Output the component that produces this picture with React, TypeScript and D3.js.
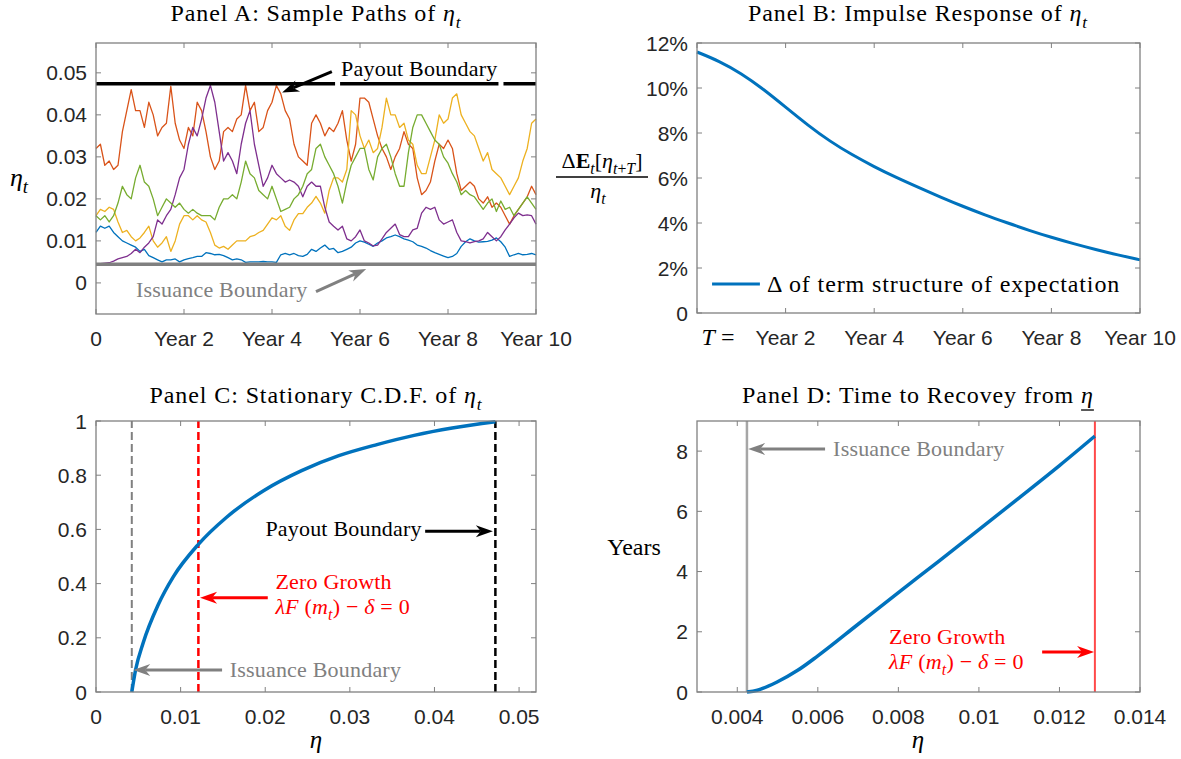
import { useRef, useEffect } from 'react';
import * as d3 from 'd3';

// Panel A: sample paths of eta, one reading every pathStep years (0 .. 10)
const pathStep = 0.1;
const pathBlue = [
  0.012, 0.0135, 0.013, 0.0135, 0.012, 0.011, 0.010, 0.0095, 0.009, 0.0085,
  0.0075, 0.008, 0.0065, 0.006, 0.0055, 0.005, 0.0055, 0.0055, 0.0057, 0.005,
  0.0055, 0.0058, 0.006, 0.0063, 0.0063, 0.0072, 0.007, 0.0067, 0.0068, 0.0065,
  0.006, 0.0055, 0.0057, 0.0055, 0.0049, 0.005, 0.005, 0.005, 0.0051, 0.005,
  0.005, 0.0049, 0.0067, 0.007, 0.0067, 0.007, 0.0065, 0.0063, 0.0068, 0.008,
  0.0075, 0.0083, 0.009, 0.008, 0.0082, 0.0072, 0.0075, 0.008, 0.0085, 0.0095,
  0.010, 0.0097, 0.0092, 0.0087, 0.0095, 0.010, 0.0107, 0.011, 0.0114, 0.011,
  0.0105, 0.0102, 0.0098, 0.009, 0.0087, 0.0083, 0.0077, 0.0072, 0.0068, 0.0064,
  0.006, 0.0063, 0.007, 0.0087, 0.0098, 0.0105, 0.010, 0.0097, 0.0098, 0.0099,
  0.0102, 0.0107, 0.0098, 0.0085, 0.0063, 0.0067, 0.007, 0.0067, 0.0068, 0.007,
  0.0067,
];
const pathOrange = [
  0.032, 0.033, 0.028, 0.029, 0.027, 0.028, 0.036, 0.041, 0.046, 0.041,
  0.041, 0.037, 0.043, 0.040, 0.035, 0.037, 0.038, 0.0468, 0.038, 0.034,
  0.032, 0.037, 0.035, 0.043, 0.041, 0.036, 0.030, 0.027, 0.029, 0.036,
  0.037, 0.036, 0.039, 0.040, 0.047, 0.041, 0.043, 0.036, 0.037, 0.041,
  0.043, 0.047, 0.045, 0.041, 0.039, 0.033, 0.030, 0.029, 0.028, 0.038,
  0.040, 0.038, 0.035, 0.037, 0.036, 0.038, 0.041, 0.034, 0.029, 0.033,
  0.044, 0.044, 0.043, 0.039, 0.035, 0.032, 0.030, 0.027, 0.030, 0.032,
  0.036, 0.033, 0.032, 0.025, 0.021, 0.022, 0.024, 0.029, 0.033, 0.032,
  0.034, 0.032, 0.026, 0.022, 0.023, 0.024, 0.023, 0.020, 0.019, 0.0205,
  0.018, 0.019, 0.018, 0.016, 0.014, 0.016, 0.0175, 0.019, 0.0205, 0.023,
  0.021,
];
const pathYellow = [
  0.016, 0.0175, 0.017, 0.018, 0.0175, 0.0145, 0.012, 0.0125, 0.011, 0.010,
  0.0107, 0.012, 0.0135, 0.010, 0.0085, 0.0095, 0.011, 0.0075, 0.010, 0.014,
  0.016, 0.016, 0.015, 0.016, 0.015, 0.0145, 0.012, 0.009, 0.0083, 0.0087,
  0.008, 0.009, 0.010, 0.010, 0.010, 0.011, 0.0113, 0.012, 0.0125, 0.014,
  0.0155, 0.015, 0.016, 0.0135, 0.0125, 0.015, 0.0165, 0.0165, 0.018, 0.019,
  0.0206, 0.019, 0.0166, 0.022, 0.025, 0.025, 0.024, 0.027, 0.041, 0.040,
  0.035, 0.032, 0.034, 0.031, 0.032, 0.037, 0.044, 0.040, 0.040, 0.037,
  0.038, 0.034, 0.033, 0.028, 0.026, 0.026, 0.030, 0.034, 0.040, 0.038,
  0.039, 0.044, 0.045, 0.040, 0.038, 0.036, 0.035, 0.032, 0.029, 0.031,
  0.027, 0.026, 0.025, 0.023, 0.021, 0.023, 0.025, 0.029, 0.032, 0.038,
  0.039,
];
const pathPurple = [
  0.0046, 0.0046, 0.0047, 0.0048, 0.0052, 0.0057, 0.006, 0.0063, 0.007, 0.008,
  0.0072, 0.0085, 0.0095, 0.011, 0.015, 0.014, 0.016, 0.0175, 0.021, 0.025,
  0.027, 0.033, 0.037, 0.035, 0.039, 0.044, 0.047, 0.043, 0.036, 0.029,
  0.031, 0.029, 0.026, 0.033, 0.038, 0.041, 0.033, 0.028, 0.023, 0.025,
  0.028, 0.026, 0.025, 0.024, 0.0245, 0.024, 0.023, 0.0205, 0.023, 0.024,
  0.023, 0.023, 0.018, 0.0145, 0.0135, 0.0126, 0.0135, 0.0105, 0.010, 0.011,
  0.0126, 0.010, 0.0095, 0.0088, 0.009, 0.0105, 0.012, 0.013, 0.014, 0.0115,
  0.011, 0.011, 0.0126, 0.013, 0.0166, 0.018, 0.0175, 0.018, 0.015, 0.014,
  0.0145, 0.015, 0.012, 0.010, 0.0098, 0.0095, 0.0098, 0.010, 0.0105, 0.012,
  0.011, 0.010, 0.011, 0.0126, 0.014, 0.0155, 0.0166, 0.016, 0.0162, 0.016,
  0.014,
];
const pathGreen = [
  0.016, 0.015, 0.016, 0.0145, 0.016, 0.019, 0.023, 0.021, 0.020, 0.025,
  0.028, 0.024, 0.023, 0.020, 0.016, 0.018, 0.020, 0.019, 0.018, 0.019,
  0.0175, 0.0166, 0.0175, 0.0166, 0.016, 0.016, 0.016, 0.015, 0.018, 0.020,
  0.020, 0.021, 0.020, 0.024, 0.029, 0.026, 0.025, 0.022, 0.021, 0.020,
  0.023, 0.020, 0.017, 0.0175, 0.018, 0.020, 0.021, 0.023, 0.026, 0.027,
  0.032, 0.033, 0.030, 0.028, 0.026, 0.023, 0.019, 0.024, 0.028, 0.030,
  0.032, 0.032, 0.027, 0.0245, 0.030, 0.032, 0.033, 0.030, 0.026, 0.023,
  0.023, 0.031, 0.037, 0.040, 0.040, 0.038, 0.036, 0.034, 0.033, 0.030,
  0.0285, 0.026, 0.024, 0.021, 0.022, 0.021, 0.0205, 0.019, 0.0175, 0.019,
  0.020, 0.017, 0.0195, 0.0175, 0.018, 0.016, 0.0175, 0.019, 0.0205, 0.019,
  0.0175,
];
const samplePaths = [pathBlue, pathOrange, pathYellow, pathPurple, pathGreen];
const pathColors = ['#0072BD', '#D95319', '#EDB120', '#7E2F8E', '#77AC30'];

const payoutBoundary = 0.0474;
const issuanceBoundary = 0.00445;
const yearTicks = [0, 2, 4, 6, 8, 10];
const yearLabelsA = ['0', 'Year 2', 'Year 4', 'Year 6', 'Year 8', 'Year 10'];
const yearLabelsB = ['', 'Year 2', 'Year 4', 'Year 6', 'Year 8', 'Year 10'];
const etaTicksA = [0, 0.01, 0.02, 0.03, 0.04, 0.05];

// Panel B: impulse response, percent
const irfT = [0, 0.5, 1, 1.5, 2, 2.5, 3, 3.5, 4, 4.5, 5, 5.5, 6, 6.5, 7, 7.5, 8, 8.5, 9, 9.5, 10];
const irfPct = [11.6, 11.2, 10.65, 9.95, 9.15, 8.35, 7.63, 7.03, 6.5, 6.02, 5.58, 5.15, 4.74, 4.36, 4.01, 3.67, 3.36, 3.08, 2.82, 2.58, 2.36];
const pctTicks = [0, 2, 4, 6, 8, 10, 12];

// Panel C: stationary CDF
const cdfEta = [0.00423, 0.00468, 0.00557, 0.00735, 0.00913, 0.0121, 0.0154, 0.0198, 0.0243, 0.0287, 0.0332, 0.0376, 0.0421, 0.0472];
const cdfProb = [0, 0.082, 0.181, 0.322, 0.425, 0.545, 0.644, 0.743, 0.817, 0.872, 0.913, 0.947, 0.974, 0.997];
const cdfIssuance = 0.00423;
const cdfZeroGrowth = 0.0121;
const cdfPayout = 0.0472;
const cdfXTicks = [0, 0.01, 0.02, 0.03, 0.04, 0.05];
const cdfYTicks = [0, 0.2, 0.4, 0.6, 0.8, 1];

// Panel D: time to recovery
const recEta = [0.00424, 0.0045, 0.005, 0.0055, 0.006, 0.007, 0.008, 0.009, 0.01, 0.011, 0.012, 0.01288];
const recYears = [0, 0.06, 0.34, 0.72, 1.2, 2.25, 3.3, 4.34, 5.39, 6.45, 7.52, 8.5];
const recIssuance = 0.00424;
const recZeroGrowth = 0.01288;
const recXTicks = [0.004, 0.006, 0.008, 0.01, 0.012, 0.014];
const recYTicks = [0, 2, 4, 6, 8];

const SANS = '"Liberation Sans", Arial, sans-serif';
const SERIF = '"Liberation Serif", "Times New Roman", serif';
const AXIS = '#808080';
const LABEL = '#262626';
const BLUE = '#0072BD';
const GRAY = '#808080';
const RED = '#ff0000';

// parts: [text, flags] with flags i = italic, b = bold, s = subscript
function mathText(g, x, y, parts, size, opts: any = {}) {
  const t = g.append('text')
    .attr('x', x).attr('y', y)
    .attr('text-anchor', opts.anchor || 'middle')
    .attr('font-family', SERIF)
    .attr('font-size', size)
    .attr('fill', opts.color || '#000')
    .attr('letter-spacing', opts.spacing || 0);
  let shift = 0;
  parts.forEach(([s, f = '']) => {
    const target = f.includes('s') ? size * 0.28 : 0;
    t.append('tspan')
      .attr('dy', target - shift)
      .attr('font-size', f.includes('s') ? size * 0.72 : size)
      .attr('font-style', f.includes('i') ? 'italic' : 'normal')
      .attr('font-weight', f.includes('b') ? 'bold' : 'normal')
      .text(s);
    shift = target;
  });
  return t;
}

function arrow(g, x1, y1, x2, y2, color, lw = 3) {
  const a = Math.atan2(y2 - y1, x2 - x1);
  const ux = Math.cos(a), uy = Math.sin(a);
  const nx = -uy, ny = ux;
  const L = 17, hw = 6, notch = 12;
  const bx = x2 - ux * L, by = y2 - uy * L;
  const mx = x2 - ux * notch, my = y2 - uy * notch;
  g.append('line').attr('x1', x1).attr('y1', y1).attr('x2', mx).attr('y2', my)
    .attr('stroke', color).attr('stroke-width', lw);
  g.append('path')
    .attr('d', `M${x2},${y2}L${bx + nx * hw},${by + ny * hw}L${mx},${my}L${bx - nx * hw},${by - ny * hw}Z`)
    .attr('fill', color);
}

function frame(g, x, y, xTicks, xLabel, yTicks, yLabel) {
  const [x0, x1] = x.range();
  const [yb, yt] = y.range();
  const tk = 5;
  xTicks.forEach((v, i) => {
    const p = x(v);
    g.append('line').attr('x1', p).attr('x2', p).attr('y1', yb).attr('y2', yb - tk).attr('stroke', AXIS);
    g.append('line').attr('x1', p).attr('x2', p).attr('y1', yt).attr('y2', yt + tk).attr('stroke', AXIS);
    const s = xLabel(v, i);
    if (s) {
      g.append('text').attr('x', p).attr('y', yb + 32)
        .attr('text-anchor', 'middle').attr('font-family', SANS).attr('font-size', 21)
        .attr('fill', LABEL).text(s);
    }
  });
  yTicks.forEach((v, i) => {
    const p = y(v);
    g.append('line').attr('x1', x0).attr('x2', x0 + tk).attr('y1', p).attr('y2', p).attr('stroke', AXIS);
    g.append('line').attr('x1', x1).attr('x2', x1 - tk).attr('y1', p).attr('y2', p).attr('stroke', AXIS);
    g.append('text').attr('x', x0 - 9).attr('y', p).attr('dy', '0.36em')
      .attr('text-anchor', 'end').attr('font-family', SANS).attr('font-size', 21)
      .attr('fill', LABEL).text(yLabel(v, i));
  });
  g.append('rect').attr('x', x0).attr('y', yt).attr('width', x1 - x0).attr('height', yb - yt)
    .attr('fill', 'none').attr('stroke', AXIS).attr('stroke-width', 1.3);
}

const App = () => {
  const ref = useRef<SVGSVGElement>(null);

  useEffect(() => {
    const svg = d3.select(ref.current);
    svg.selectAll('*').remove();
    svg.append('rect').attr('width', 1181).attr('height', 759).attr('fill', '#fff');

    // ---------- Panel A ----------
    const gA = svg.append('g');
    const xA = d3.scaleLinear().domain([0, 10]).range([96, 536]);
    const yA = d3.scaleLinear().domain([-0.0074, 0.0571]).range([314, 43]);
    const pathLine = d3.line<number>().x((_, i) => xA(i * pathStep)).y(d => yA(d));
    samplePaths.forEach((p, k) => {
      gA.append('path').attr('d', pathLine(p)).attr('fill', 'none')
        .attr('stroke', pathColors[k]).attr('stroke-width', 1.3).attr('stroke-linejoin', 'round');
    });
    gA.append('line').attr('x1', xA(0)).attr('x2', xA(10)).attr('y1', yA(payoutBoundary)).attr('y2', yA(payoutBoundary))
      .attr('stroke', '#000').attr('stroke-width', 3.5);
    gA.append('line').attr('x1', xA(0)).attr('x2', xA(10)).attr('y1', yA(issuanceBoundary)).attr('y2', yA(issuanceBoundary))
      .attr('stroke', GRAY).attr('stroke-width', 3.5);
    frame(gA, xA, yA, yearTicks, (_, i) => yearLabelsA[i], etaTicksA, v => String(v));
    mathText(gA, 316, 21, [['Panel A: Sample Paths of '], ['η', 'i'], ['t', 'is']], 24, { spacing: 0.9 });
    mathText(gA, 19, 186, [['η', 'i'], ['t', 'is']], 26);

    const payText = mathText(gA, xA(5.57), yA(0.0508) + 7, [['Payout Boundary']], 22, { anchor: 'start', spacing: 0.2 });
    const pb = (payText.node() as SVGTextElement).getBBox();
    [pb.x - 6, pb.x + pb.width + 1].forEach(gx => {
      gA.append('rect').attr('x', gx).attr('y', yA(payoutBoundary) - 3).attr('width', 5).attr('height', 6).attr('fill', '#fff');
    });
    arrow(gA, xA(5.36), yA(0.0503), xA(4.23), yA(0.0453), '#000', 3);
    mathText(gA, xA(0.91), yA(-0.0017) + 7, [['Issuance Boundary']], 22, { anchor: 'start', color: GRAY, spacing: 0.2 });
    arrow(gA, xA(5.0), yA(-0.0021), xA(6.14), yA(0.0033), GRAY, 3);

    // ---------- Panel B ----------
    const gB = svg.append('g');
    const xB = d3.scaleLinear().domain([0, 10]).range([697, 1140]);
    const yB = d3.scaleLinear().domain([0, 12]).range([313, 43]);
    const irfLine = d3.line<number>().x((_, i) => xB(irfT[i])).y(d => yB(d)).curve(d3.curveBasis);
    gB.append('path').attr('d', irfLine(irfPct)).attr('fill', 'none').attr('stroke', BLUE).attr('stroke-width', 3);
    frame(gB, xB, yB, yearTicks, (_, i) => yearLabelsB[i], pctTicks, v => (v === 0 ? '0' : `${v}%`));
    mathText(gB, 918, 21, [['Panel B: Impulse Response of '], ['η', 'i'], ['t', 'is']], 24, { spacing: 0.9 });
    mathText(gB, xB(0) + 21, 345, [['T', 'i'], [' =']], 24);
    // legend
    const legY = yB(1.29);
    gB.append('line').attr('x1', xB(0.34)).attr('x2', xB(1.42)).attr('y1', legY).attr('y2', legY)
      .attr('stroke', BLUE).attr('stroke-width', 3);
    mathText(gB, xB(1.58), legY + 8, [['Δ of term structure of expectation']], 24, { anchor: 'start', spacing: 0.9 });
    // y label fraction
    mathText(gB, 602, 168, [['Δ'], ['E', 'b'], ['t', 'is'], ['['], ['η', 'i'], ['t', 'is'], ['+', 's'], ['T', 'is'], [']']], 22);
    gB.append('line').attr('x1', 556).attr('x2', 648).attr('y1', 177).attr('y2', 177).attr('stroke', '#000').attr('stroke-width', 1.3);
    mathText(gB, 598, 198, [['η', 'i'], ['t', 'is']], 22);

    // ---------- Panel C ----------
    const gC = svg.append('g');
    const xC = d3.scaleLinear().domain([0, 0.052]).range([96, 536]);
    const yC = d3.scaleLinear().domain([0, 1]).range([692, 421]);
    const vline = (g, x, y, v, color, w, dash) => {
      g.append('line').attr('x1', x(v)).attr('x2', x(v)).attr('y1', y.range()[0]).attr('y2', y.range()[1])
        .attr('stroke', color).attr('stroke-width', w).attr('stroke-dasharray', dash);
    };
    vline(gC, xC, yC, cdfIssuance, GRAY, 2, '8,4');
    vline(gC, xC, yC, cdfZeroGrowth, RED, 2.5, '8,4');
    vline(gC, xC, yC, cdfPayout, '#000', 2.5, '8,4');
    const cdfLine = d3.line<number>().x((_, i) => xC(cdfEta[i])).y(d => yC(d)).curve(d3.curveMonotoneX);
    gC.append('path').attr('d', cdfLine(cdfProb)).attr('fill', 'none').attr('stroke', BLUE).attr('stroke-width', 3.5);
    frame(gC, xC, yC, cdfXTicks, v => String(v), cdfYTicks, v => String(v));
    mathText(gC, 316, 403, [['Panel C: Stationary C.D.F. of '], ['η', 'i'], ['t', 'is']], 24, { spacing: 0.9 });
    mathText(gC, 316, 748, [['η', 'i']], 25);
    mathText(gC, xC(0.0385), yC(0.6) + 7, [['Payout Boundary']], 22, { anchor: 'end', spacing: 0.2 });
    arrow(gC, xC(0.0389), yC(0.593), xC(0.0469), yC(0.593), '#000', 3);
    mathText(gC, xC(0.0212), yC(0.407) + 7, [['Zero Growth']], 22, { anchor: 'start', color: RED, spacing: 0.2 });
    mathText(gC, xC(0.0212), yC(0.315) + 7, [['λ', 'i'], ['F', 'i'], [' ('], ['m', 'i'], ['t', 'is'], [')'], [' − '], ['δ', 'i'], [' = 0']], 22, { anchor: 'start', color: RED, spacing: 0.2 });
    arrow(gC, xC(0.0203), yC(0.348), xC(0.0123), yC(0.348), RED, 3);
    mathText(gC, xC(0.0158), yC(0.081) + 7, [['Issuance Boundary']], 22, { anchor: 'start', color: GRAY, spacing: 0.2 });
    arrow(gC, xC(0.0149), yC(0.081), xC(0.0044), yC(0.081), GRAY, 3);

    // ---------- Panel D ----------
    const gD = svg.append('g');
    const xD = d3.scaleLinear().domain([0.003, 0.014]).range([697, 1140]);
    const yD = d3.scaleLinear().domain([0, 9]).range([692, 421]);
    vline(gD, xD, yD, recIssuance, '#a6a6a6', 2.5, null);
    vline(gD, xD, yD, recZeroGrowth, '#ff4a4a', 2, null);
    const recLine = d3.line<number>().x((_, i) => xD(recEta[i])).y(d => yD(d)).curve(d3.curveMonotoneX);
    gD.append('path').attr('d', recLine(recYears)).attr('fill', 'none').attr('stroke', BLUE).attr('stroke-width', 3.5);
    frame(gD, xD, yD, recXTicks, v => String(v), recYTicks, v => String(v));
    const tD = mathText(gD, 918, 403, [['Panel D: Time to Recovey from '], ['η', 'i']], 24, { spacing: 0.9 });
    const tn = tD.node() as SVGTextElement;
    const ext = tn.getExtentOfChar(tn.getNumberOfChars() - 1);
    gD.append('line').attr('x1', ext.x).attr('x2', ext.x + ext.width).attr('y1', 410).attr('y2', 410)
      .attr('stroke', '#000').attr('stroke-width', 1.3);
    mathText(gD, 918, 748, [['η', 'i']], 25);
    mathText(gD, 634, 555, [['Years']], 24);
    mathText(gD, xD(0.00638), yD(8.07) + 7, [['Issuance Boundary']], 22, { anchor: 'start', color: GRAY, spacing: 0.2 });
    arrow(gD, xD(0.00618), yD(8.07), xD(0.00427), yD(8.07), GRAY, 3);
    mathText(gD, xD(0.00777), yD(1.83) + 7, [['Zero Growth']], 22, { anchor: 'start', color: RED, spacing: 0.2 });
    mathText(gD, xD(0.00777), yD(1.0) + 7, [['λ', 'i'], ['F', 'i'], [' ('], ['m', 'i'], ['t', 'is'], [')'], [' − '], ['δ', 'i'], [' = 0']], 22, { anchor: 'start', color: RED, spacing: 0.2 });
    arrow(gD, xD(0.01157), yD(1.33), xD(0.01286), yD(1.33), RED, 3);
  }, []);

  return (
    <svg ref={ref} width={1181} height={759}
      style={{ position: 'absolute', left: 0, top: 0, display: 'block' }} />
  );
};

export default App;
